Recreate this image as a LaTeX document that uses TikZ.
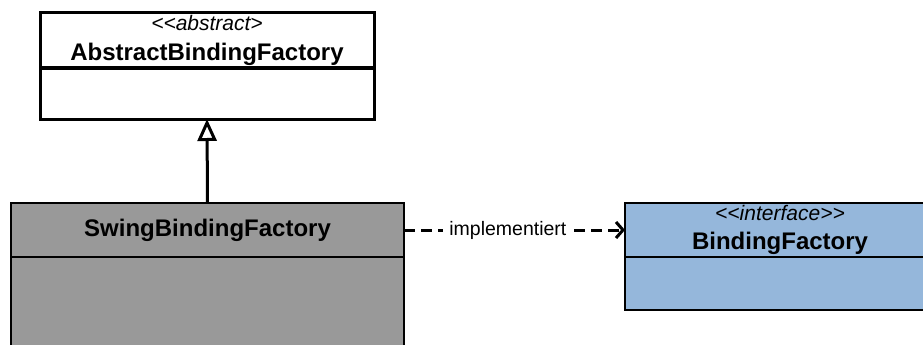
\documentclass[tikz,border=0pt]{standalone}
\usepackage{fontspec}
\setmainfont{Liberation Sans}
\usetikzlibrary{arrows.meta,positioning}
\definecolor{swinggray}{HTML}{999999}
\definecolor{ifaceblue}{HTML}{95B7DB}
\newcommand{\stereo}[1]{{\fontsize{21}{22}\selectfont\itshape #1}}
\newcommand{\clsname}[1]{{\fontsize{24}{26}\selectfont\bfseries #1}}

\begin{document}
\begin{tikzpicture}[x=1pt,y=-1pt,
  hdr/.style={draw,inner sep=0pt,outer sep=0pt,align=center,anchor=north west},
  body/.style={draw,inner sep=0pt,outer sep=0pt,below=0pt of #1}]
  \useasboundingbox[fill=white] (0,0) rectangle (923,345);
  % abstract class
  \node[hdr,line width=3pt,minimum width=334pt,minimum height=55pt,font=\fontsize{24}{30}\selectfont] (abstract) at (40,13)
    {\stereo{<\kern0pt<abstract>}\\\clsname{AbstractBindingFactory}};
  \node[body=abstract,line width=3pt,minimum width=334pt,minimum height=51pt] (abstractbody) {};
  % concrete class
  \node[hdr,line width=1.5pt,fill=swinggray,minimum width=393pt,minimum height=54pt] (swing) at (11,203)
    {\clsname{SwingBindingFactory}};
  \node[body=swing,line width=1.5pt,fill=swinggray,minimum width=393pt,minimum height=100pt] (swingbody) {};
  % interface
  \node[hdr,line width=1.2pt,fill=ifaceblue,minimum width=310pt,minimum height=54pt,font=\fontsize{24}{29}\selectfont] (iface) at (625,203)
    {\stereo{<\kern0pt<interface>\kern0pt>}\\\clsname{BindingFactory}};
  \node[body=iface,line width=1.2pt,fill=ifaceblue,minimum width=310pt,minimum height=53pt] (ifacebody) {};
  % relations
  \draw[line width=3pt,-{Triangle[open,length=22pt,width=19pt,line width=3pt]}] (swing.north) -- (abstractbody.south);
  \draw[line width=3pt,dash pattern=on 11pt off 6pt,-{Straight Barb[length=7pt,width=16pt,line width=3pt]}]
    (swing.east) -- node[pos=0.47,fill=white,inner sep=6pt,font=\fontsize{19.5}{21}\selectfont] (impl) {implementiert} (iface.west);
\end{tikzpicture}
\end{document}
